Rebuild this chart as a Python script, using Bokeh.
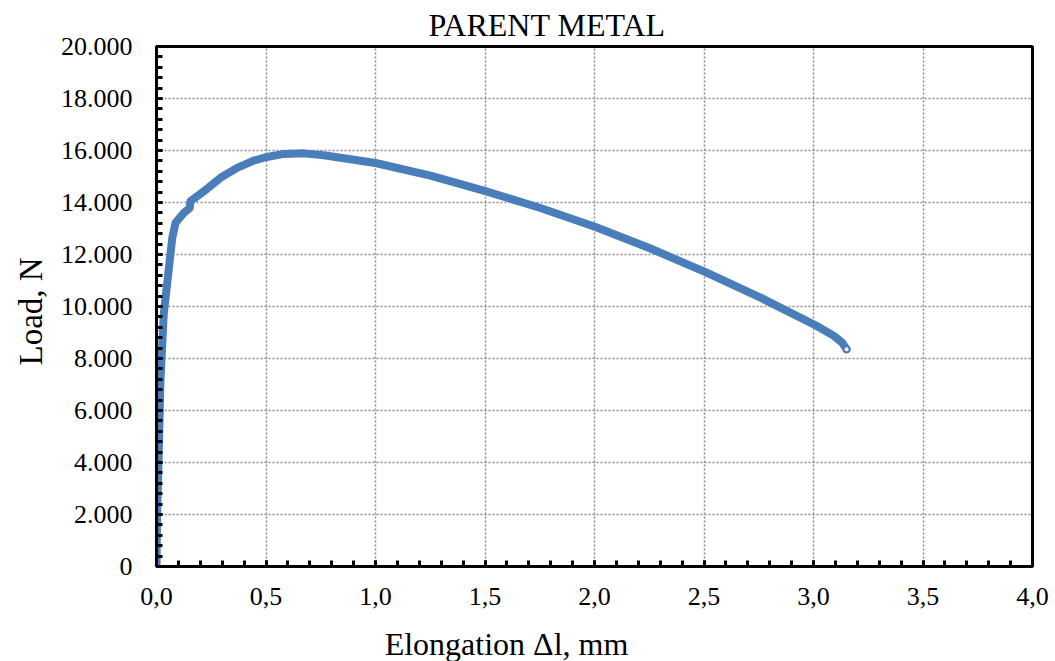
from bokeh.plotting import figure
from bokeh.models import CustomJSTickFormatter, FixedTicker, Range1d, Title, Label
from bokeh.layouts import column
from bokeh.embed import file_html
from bokeh.resources import INLINE

elongation_mm = [0.0, 0.003, 0.011, 0.018, 0.033, 0.056, 0.072, 0.087, 0.125, 0.152,
                 0.155, 0.216, 0.292, 0.368, 0.444, 0.498, 0.581, 0.673, 0.764,
                 1.0, 1.251, 1.502, 1.753, 2.005, 2.25, 2.507, 2.758, 3.009,
                 3.093, 3.131, 3.151]
load_n = [0, 2030, 4580, 7140, 9700, 11430, 12640, 13220, 13600, 13790,
          14050, 14430, 14950, 15330, 15610, 15740, 15870, 15890, 15820,
          15520, 15030, 14440, 13790, 13060, 12250, 11320, 10340, 9280,
          8870, 8610, 8357]

x_ticks = [0.0, 0.5, 1.0, 1.5, 2.0, 2.5, 3.0, 3.5, 4.0]
y_ticks = [0, 2000, 4000, 6000, 8000, 10000, 12000, 14000, 16000, 18000, 20000]

title_text = "PARENT METAL"
x_label = "Elongation \u0394l, mm"
y_label = "Load, N"

FONT = "Liberation Serif"
BLUE = "#4a7ebb"
W, H = 1055, 661
FL, FR = 156, 1032          # frame left / right in page pixels
LABEL_H = 46
PH = H - LABEL_H

p = figure(width=W, height=PH, output_backend="svg", toolbar_location=None,
           x_range=Range1d(0, 4.0), y_range=Range1d(0, 20000),
           min_border_left=FL, min_border_right=W - FR, min_border_bottom=PH - 566,
           min_border_top=45)

p.outline_line_color = "black"
p.outline_line_width = 3
p.outline_line_alpha = 1

p.xaxis.ticker = FixedTicker(ticks=x_ticks, minor_ticks=[i / 10 for i in range(41)])
p.yaxis.ticker = FixedTicker(ticks=y_ticks, minor_ticks=list(range(0, 20001, 400)))
p.xaxis.formatter = CustomJSTickFormatter(code="return tick.toFixed(1).replace('.', ',');")
p.yaxis.formatter = CustomJSTickFormatter(code="return tick == 0 ? '0' : (tick/1000).toFixed(3);")

for ax in (p.xaxis, p.yaxis):
    ax.axis_line_color = "black"
    ax.axis_line_width = 3
    ax.major_tick_in = 6
    ax.major_tick_out = 0
    ax.minor_tick_in = 6
    ax.minor_tick_out = 0
    ax.major_tick_line_width = 3
    ax.minor_tick_line_width = 3
    ax.major_tick_line_color = "black"
    ax.minor_tick_line_color = "black"
    ax.major_label_text_font = FONT
    ax.major_label_text_font_size = "26px"
    ax.major_label_text_color = "black"

p.xaxis.major_label_standoff = 21
p.yaxis.major_label_standoff = 24

p.xgrid.ticker = FixedTicker(ticks=x_ticks)
p.ygrid.ticker = FixedTicker(ticks=y_ticks)
for g in (p.xgrid, p.ygrid):
    g.grid_line_color = "#8c8c8c"
    g.grid_line_dash = "2 2"
    g.grid_line_width = 1.5

p.line(elongation_mm, load_n, line_color=BLUE, line_width=8, line_cap="round", line_join="round")
p.scatter([elongation_mm[-1]], [load_n[-1]], size=6, marker="circle",
          fill_color="white", line_color=BLUE, line_width=2)

p.title = Title(text=title_text, align="left", offset=272, standoff=8,
                text_font=FONT, text_font_size="32px", text_font_style="normal",
                text_color="black")
p.add_layout(Title(text=y_label, align="left", offset=201, standoff=18,
                   text_font=FONT, text_font_size="33px", text_font_style="normal",
                   text_color="black"), "left")

# strip below the chart carrying the x-axis title; its frame is aligned with the chart's
lbl = figure(width=W, height=LABEL_H, output_backend="svg", toolbar_location=None,
             x_range=Range1d(FL, FR), y_range=Range1d(0, LABEL_H),
             x_axis_type=None, y_axis_type=None,
             min_border_left=FL, min_border_right=W - FR, min_border_top=0, min_border_bottom=0)
lbl.outline_line_color = None
lbl.xgrid.visible = False
lbl.ygrid.visible = False
lbl.add_layout(Label(x=506, y=LABEL_H - 28, text=x_label, text_font=FONT,
                     text_font_size="32px", text_color="black",
                     text_align="center", text_baseline="middle"))

layout = column(p, lbl, spacing=0)
open("out.html", "w").write(file_html(layout, INLINE))
